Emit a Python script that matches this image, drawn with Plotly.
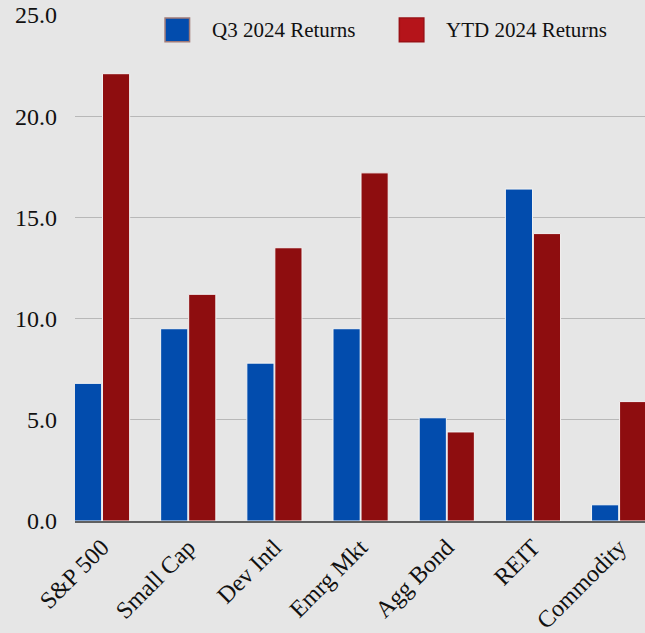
import plotly.graph_objects as go

categories = ["S&P 500", "Small Cap", "Dev Intl", "Emrg Mkt", "Agg Bond", "REIT", "Commodity"]
q3_returns = [6.8, 9.5, 7.8, 9.5, 5.1, 16.4, 0.8]
ytd_returns = [22.1, 11.2, 13.5, 17.2, 4.4, 14.2, 5.9]
series_names = ["Q3 2024 Returns", "YTD 2024 Returns"]
y_ticks = [0, 5, 10, 15, 20, 25]

BLUE = "#024cad"
RED = "#8e0d0f"
LEGEND_RED = "#b5141a"
FONT = "Liberation Serif"

fig = go.Figure()
fig.add_trace(go.Bar(
    x=categories, y=q3_returns, name=series_names[0],
    marker=dict(color=BLUE, line=dict(color="#f4f4f4", width=1)),
    showlegend=False,
))
fig.add_trace(go.Bar(
    x=categories, y=ytd_returns, name=series_names[1],
    marker=dict(color=RED, line=dict(color="#f4f4f4", width=1)),
    showlegend=False,
))

# legend drawn as swatches + labels across the top of the plot
swatches = [(0.158, BLUE, "#a07a78", series_names[0]), (0.569, LEGEND_RED, "#9a1015", series_names[1])]
for x0, fill, edge, label in swatches:
    fig.add_shape(type="rect", xref="paper", yref="paper",
                  x0=x0, x1=x0 + 0.043, y0=0.947, y1=0.994,
                  fillcolor=fill, line=dict(color=edge, width=1.5))
    fig.add_annotation(xref="paper", yref="paper", x=x0 + 0.078, y=0.970,
                       text=label, showarrow=False, xanchor="left", yanchor="middle",
                       font=dict(family=FONT, size=21, color="#111"))

fig.update_layout(
    width=645, height=633,
    margin=dict(l=75, r=0, t=15, b=112),
    paper_bgcolor="#e6e6e6", plot_bgcolor="#e6e6e6",
    barmode="group", bargap=0.35, bargroupgap=0.03,
    font=dict(family=FONT, size=20, color="#111"),
)
fig.update_xaxes(
    range=[-0.314, 6.30], tickangle=-45, showgrid=False, automargin=False,
    tickfont=dict(family=FONT, size=24, color="#111"),
    showline=True, linecolor="#606060", linewidth=1.5,
    ticks="", ticklen=0, ticklabelstandoff=1,
)
fig.update_yaxes(
    range=[0, 25], tickvals=y_ticks, tickformat=".1f", automargin=False,
    showgrid=True, gridcolor="#b8b8b8", gridwidth=1.2,
    zeroline=False, ticks="", ticklabelstandoff=17,
    tickfont=dict(family=FONT, size=24, color="#111"),
)

fig.write_html("out.html")
